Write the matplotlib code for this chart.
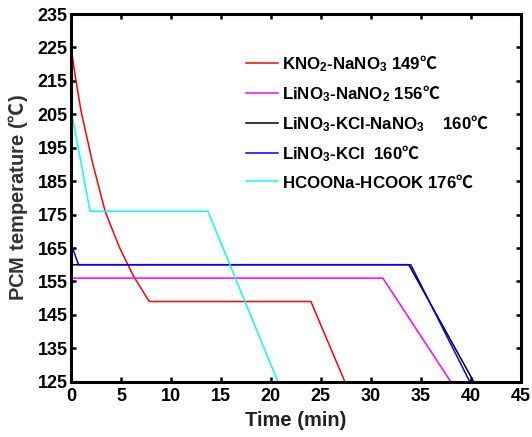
import matplotlib
matplotlib.use('Agg')
import matplotlib.pyplot as plt

plt.rcParams['font.family'] = ['Liberation Sans', 'Noto Sans CJK SC', 'DejaVu Sans']
plt.rcParams['font.weight'] = 'bold'
plt.rcParams['mathtext.fontset'] = 'custom'
plt.rcParams['mathtext.rm'] = 'Liberation Sans:bold'
plt.rcParams['mathtext.it'] = 'Liberation Sans:bold'
plt.rcParams['mathtext.bf'] = 'Liberation Sans:bold'
plt.rcParams['mathtext.sf'] = 'Noto Sans CJK SC:weight=light'
plt.rcParams['mathtext.default'] = 'rm'

# cooling curves, time in min, temperature in degC
t_kno2 = [0, 0.43, 1.0, 2.17, 3.43, 4.83, 5.67, 6.33, 7.83, 24.0, 27.4]
T_kno2 = [225.3, 216.2, 206.0, 190.3, 175.8, 165.3, 160.1, 156.2, 149, 149, 125]

t_lino3_nano2 = [0, 31.2, 38.0]
T_lino3_nano2 = [156, 156, 125]

t_lino3_kcl_nano3 = [0, 33.8, 40.3]
T_lino3_kcl_nano3 = [160, 160, 125]

t_lino3_kcl = [0, 0.75, 34.0, 39.9]
T_lino3_kcl = [166.3, 160, 160, 125]

t_hcoo = [0, 0.44, 1.08, 1.9, 13.7, 20.7]
T_hcoo = [206.3, 199.3, 189.3, 176, 176, 125]

deg = '$\\mathsf{\u2103}$'
labels = [
    'KNO$_2$-NaNO$_3$ 149' + deg,
    'LiNO$_3$-NaNO$_2$ 156' + deg,
    'LiNO$_3$-KCl-NaNO$_3$    160' + deg,
    'LiNO$_3$-KCl  160' + deg,
    'HCOONa-HCOOK 176' + deg,
]

xticks = list(range(0, 46, 5))
yticks = list(range(125, 236, 10))

fig = plt.figure(figsize=(5.32, 4.37), dpi=100)
ax = fig.add_axes([0.1335, 0.1265, 0.8453, 0.8414])

lw = 1.1
ax.plot(t_kno2, T_kno2, color='#ff0000', lw=lw)
ax.plot(t_lino3_nano2, T_lino3_nano2, color='#ff00ff', lw=lw)
ax.plot(t_lino3_kcl_nano3, T_lino3_kcl_nano3, color='black', lw=lw)
ax.plot(t_lino3_kcl, T_lino3_kcl, color='#0000ff', lw=lw)
ax.plot(t_hcoo, T_hcoo, color='#00ffff', lw=lw)

ax.set_xlim(0, 45)
ax.set_ylim(125, 235)
ax.set_xticks(xticks)
ax.set_yticks(yticks)
ax.tick_params(direction='in', length=3.5, width=1.8, top=True, right=True,
               labelsize=13)
ax.tick_params(axis='x', pad=4.5)
ax.tick_params(axis='y', pad=2.5)
for lab in ax.get_xticklabels() + ax.get_yticklabels():
    lab.set_fontweight('bold')
for sp in ax.spines.values():
    sp.set_linewidth(2.2)

ax.set_xlabel('Time (min)', fontsize=14.5, fontweight='bold', color='#222222', labelpad=4)
ax.set_ylabel('PCM temperature (' + deg + ')', fontsize=14.5, fontweight='bold',
              color='#333333', labelpad=5.5)

ax.legend(labels, loc='upper left', bbox_to_anchor=(246 / 532, 1 - 53 / 437),
          bbox_transform=fig.transFigure, frameon=False, borderpad=0,
          borderaxespad=0, handlelength=1.9, handletextpad=0.2,
          labelspacing=0.55, prop={'size': 12.2, 'weight': 'bold'})

fig.savefig('out.png', dpi=100)
